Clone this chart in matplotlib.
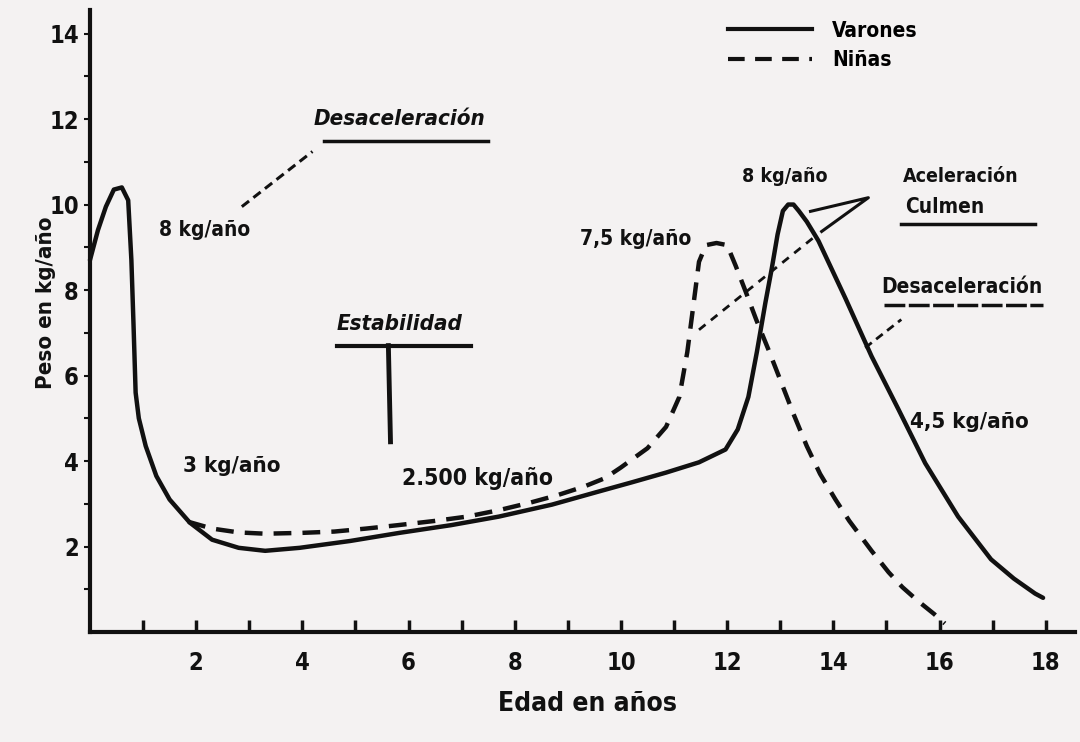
import matplotlib
matplotlib.use("Agg")
import matplotlib.pyplot as plt
import matplotlib.font_manager as fm
from matplotlib.lines import Line2D

# ---------------------------------------------------------------------
# Data (edad en años -> kg/año)
# ---------------------------------------------------------------------
varones_edad = [0.0, 0.15, 0.3, 0.45, 0.6, 0.72, 0.78, 0.82, 0.86, 0.92,
                1.05, 1.25, 1.5, 1.88, 2.3, 2.8, 3.3, 3.95, 4.9, 5.83,
                6.8, 7.7, 8.7, 9.59, 10.2, 10.85, 11.47, 11.97, 12.2, 12.4,
                12.56, 12.72, 12.84, 12.95, 13.05, 13.15, 13.25, 13.35, 13.5,
                13.72, 14.23, 14.72, 15.23, 15.73, 16.35, 16.97, 17.4, 17.8,
                17.95]
varones_peso = [8.7, 9.4, 9.95, 10.35, 10.4, 10.1, 8.7, 7.2, 5.6, 5.0,
                4.35, 3.65, 3.1, 2.56, 2.16, 1.97, 1.9, 1.97, 2.13, 2.32,
                2.5, 2.7, 2.98, 3.29, 3.5, 3.73, 3.97, 4.27, 4.74, 5.5,
                6.55, 7.7, 8.5, 9.3, 9.85, 10.0, 10.0, 9.85, 9.6,
                9.15, 7.8, 6.45, 5.2, 3.95, 2.7, 1.7, 1.25, 0.9,
                0.8]

ninas_edad = [1.85, 2.3, 2.8, 3.3, 4.0, 4.6, 5.2, 5.8, 6.5, 7.1,
              7.7, 8.3, 8.8, 9.3, 9.7, 10.0, 10.5, 10.85, 11.1, 11.25,
              11.37, 11.47, 11.6, 11.8, 12.0, 12.16, 12.35, 12.55, 12.78,
              13.0, 13.25, 13.5, 13.75, 14.04, 14.3, 14.72, 15.04, 15.3,
              15.6, 15.9, 16.1]
ninas_peso = [2.58, 2.42, 2.33, 2.3, 2.32, 2.35, 2.42, 2.5, 2.6, 2.7,
              2.85, 3.03, 3.2, 3.4, 3.6, 3.85, 4.3, 4.8, 5.5, 6.55,
              7.7, 8.66, 9.05, 9.1, 9.05, 8.57, 7.96, 7.3, 6.6,
              5.9, 5.1, 4.35, 3.7, 3.1, 2.6, 1.9, 1.4, 1.05,
              0.72, 0.42, 0.2]

x_ticks = [2, 4, 6, 8, 10, 12, 14, 16, 18]
y_ticks = [2, 4, 6, 8, 10, 12, 14]

INK = "#111111"
PAPER = "#f4f2f2"


def find_condensed(italic=False):
    """Pick an installed condensed/narrow bold face, else None."""
    best, best_score = None, None
    for f in fm.fontManager.ttflist:
        nm = (f.name + " " + f.fname).lower()
        narrow = f.stretch != "normal" or "narrow" in nm or "condensed" in nm
        if not narrow:
            continue
        rank = 1 if ("semi" in nm or "extra" in nm or "ultra" in nm) else 0
        try:
            w = int(f.weight)
        except (TypeError, ValueError):
            w = 700 if "bold" in str(f.weight) else 400
        is_it = f.style in ("italic", "oblique")
        score = (is_it != italic, rank, abs(w - 700))
        if best_score is None or score < best_score:
            best, best_score = f.fname, score
    return best


BOLD_FILE = find_condensed(False)
ITAL_FILE = find_condensed(True)


def fp(size, italic=False):
    path = ITAL_FILE if italic else BOLD_FILE
    if path:
        return fm.FontProperties(fname=path, size=size)
    return fm.FontProperties(family="DejaVu Sans", weight="bold",
                             style="italic" if italic else "normal",
                             size=size)


fig = plt.figure(figsize=(10.8, 7.42), dpi=100, facecolor=PAPER)
ax = fig.add_axes([0.0833, 0.1482, 0.912, 0.8383], facecolor=PAPER)

ax.plot(varones_edad, varones_peso, color=INK, lw=3.2,
        solid_capstyle="round", solid_joinstyle="round", clip_on=False)
ax.plot(ninas_edad, ninas_peso, color=INK, lw=3.2, dashes=(4, 2.5),
        clip_on=False)

ax.set_xlim(0, 18.55)
ax.set_ylim(0, 14.55)

for side in ("top", "right"):
    ax.spines[side].set_visible(False)
for side in ("left", "bottom"):
    ax.spines[side].set_linewidth(3)
    ax.spines[side].set_color(INK)

ax.set_xticks(range(1, 19), minor=True)
ax.set_xticks(x_ticks)
ax.set_xticklabels([str(v) for v in x_ticks])
ax.set_yticks(range(1, 15), minor=True)
ax.set_yticks(y_ticks)
ax.set_yticklabels([str(v) for v in y_ticks])
ax.tick_params(axis="x", which="both", direction="in", length=9, width=2.5,
               color=INK, pad=14, labelcolor=INK)
ax.tick_params(axis="y", which="both", direction="out", length=4, width=1.5,
               color=INK, pad=4, labelcolor=INK)
for lbl in ax.get_xticklabels() + ax.get_yticklabels():
    lbl.set_fontproperties(fp(17))

ax.set_xlabel("Edad en años", fontproperties=fp(19), color=INK)
ax.xaxis.set_label_coords(0.505, -0.095)
ax.set_ylabel("Peso en kg/año", fontproperties=fp(16), color=INK)
ax.yaxis.set_label_coords(-0.034, 0.53)

# legend
handles = [Line2D([], [], color=INK, lw=3),
           Line2D([], [], color=INK, lw=3, dashes=(4, 2.5))]
ax.legend(handles, ["Varones", "Niñas"], loc="upper left",
          bbox_to_anchor=(0.648, 0.983), frameon=False, prop=fp(15),
          handlelength=4.0, handletextpad=1.0, labelspacing=0.45,
          borderpad=0, borderaxespad=0)

# annotations
txt = dict(color=INK, ha="center", va="center")
ax.text(5.83, 12.0, "Desaceleración", fontproperties=fp(16, True), **txt)
ax.plot([4.4, 7.5], [11.48, 11.48], color=INK, lw=2.5)
ax.plot([2.86, 4.19], [9.95, 11.24], color=INK, lw=2.2, dashes=(3, 1.8))
ax.text(2.16, 9.41, "8 kg/año", fontproperties=fp(15), **txt)

ax.text(5.83, 7.21, "Estabilidad", fontproperties=fp(16, True), **txt)
ax.plot([4.66, 7.18], [6.7, 6.7], color=INK, lw=3)
ax.plot([5.62, 5.66], [6.7, 4.45], color=INK, lw=3.5)

ax.text(2.67, 3.89, "3 kg/año", fontproperties=fp(16), **txt)
ax.text(7.29, 3.6, "2.500 kg/año", fontproperties=fp(16.5), **txt)
ax.text(10.28, 9.2, "7,5 kg/año", fontproperties=fp(15), **txt)
ax.text(13.08, 10.66, "8 kg/año", fontproperties=fp(14), **txt)

ax.text(16.4, 10.66, "Aceleración", fontproperties=fp(14), **txt)
ax.text(16.09, 9.95, "Culmen", fontproperties=fp(15), **txt)
ax.plot([15.28, 17.8], [9.55, 9.55], color=INK, lw=2.5)
ax.plot([13.57, 14.66, 13.78], [9.84, 10.16, 9.37], color=INK, lw=2.2)
ax.plot([11.47, 13.7], [7.07, 9.3], color=INK, lw=2, dashes=(3, 2.5))

ax.text(16.43, 8.08, "Desaceleración", fontproperties=fp(15), **txt)
ax.plot([14.95, 17.95], [7.66, 7.66], color=INK, lw=2.5, dashes=(6, 1))
ax.plot([14.6, 15.28], [6.65, 7.31], color=INK, lw=2, dashes=(3, 2))

ax.text(16.56, 4.92, "4,5 kg/año", fontproperties=fp(16), **txt)

fig.savefig("out.png", dpi=100, facecolor=PAPER)
